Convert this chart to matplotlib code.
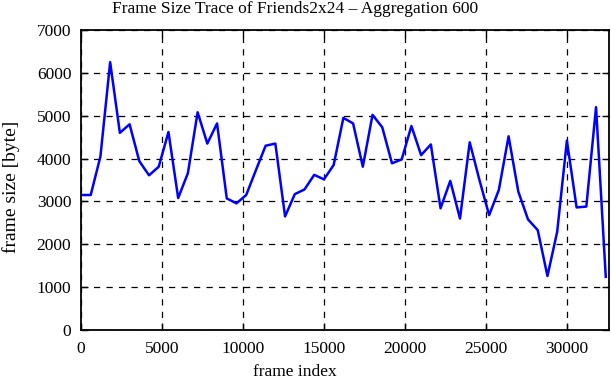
import matplotlib
matplotlib.use("Agg")
import matplotlib.pyplot as plt
import numpy as np

# aggregated frame sizes, one value every 600 frames
frame_index = list(range(0, 32401, 600))
frame_size = [
    3150, 3150, 4050, 6250, 4600, 4800, 3940, 3610, 3810, 4620,
    3080, 3660, 5080, 4350, 4820, 3070, 2955, 3150, 3730, 4300,
    4350, 2650, 3170, 3280, 3620, 3515, 3850, 4950, 4820, 3810,
    5020, 4730, 3890, 3980, 4760, 4080, 4330, 2840, 3480, 2600,
    4380, 3500, 2680, 3270, 4520, 3230, 2580, 2330, 1260, 2290,
    4420, 2860, 2880, 5200, 1240,
]
y_ticks = [0, 1000, 2000, 3000, 4000, 5000, 6000, 7000]
x_ticks = [0, 5000, 10000, 15000, 20000, 25000, 30000]

plt.rcParams['font.family'] = ['Liberation Serif', 'DejaVu Serif']
plt.rcParams['font.size'] = 12.5

W, H = 611, 380
fig = plt.figure(figsize=(W / 100, H / 100), dpi=100)
ax = fig.add_axes([81 / W, 50 / H, 528 / W, 300 / H])

ax.plot(frame_index, frame_size, '-', color=(0, 0, 1), linewidth=1.8)

ax.set_xlim(0, 32600)
ax.set_ylim(0, 7000)
ax.set_xticks(x_ticks)
ax.set_yticks(y_ticks)
ax.grid(True, linestyle=(0, (5, 5)), color='black', linewidth=0.9)
ax.tick_params(direction='in', top=True, right=True, length=5, width=1.0)
ax.tick_params(axis='y', pad=7)
ax.tick_params(axis='x', pad=8)
for s in ax.spines.values():
    s.set_linewidth(1.3)

# gnuplot centres the labels on the canvas, not on the plot box
fig.text(295 / W, 1 - 9 / H, "Frame Size Trace of Friends2x24 \u2013 Aggregation 600",
         ha='center', va='center', fontsize=12.5)
fig.text(295 / W, 1 - 372 / H, "frame index", ha='center', va='center')
fig.text(11 / W, 1 - 187 / H, "frame size [byte]", ha='center', va='center',
         rotation=90, fontsize=14)

fig.savefig("out.png", dpi=100)
